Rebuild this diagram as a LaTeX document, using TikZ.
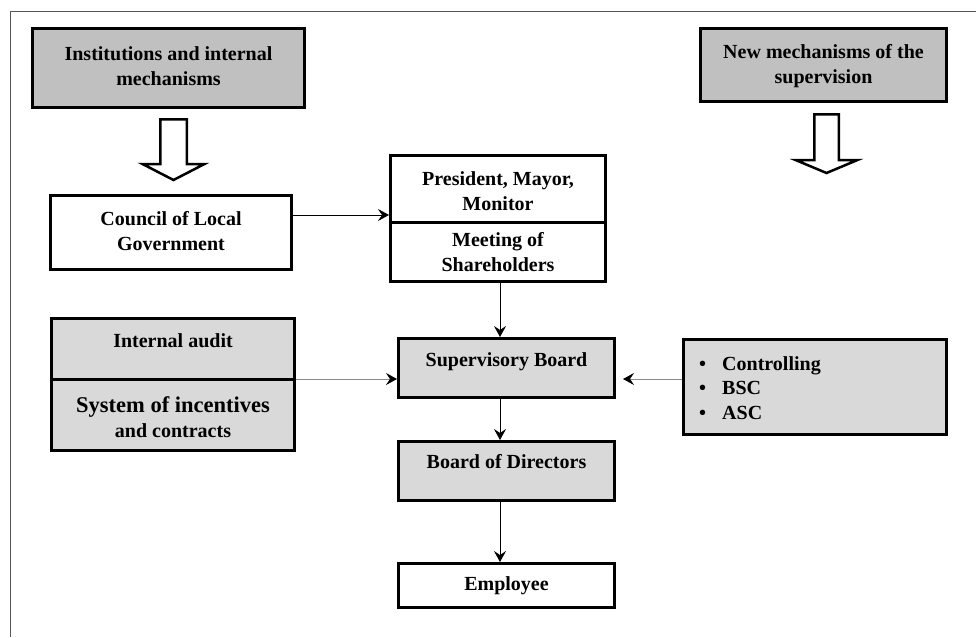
\documentclass[tikz,border=0pt]{standalone}
\usepackage{fontspec}
\setmainfont{Liberation Serif}
\usetikzlibrary{arrows.meta}
\definecolor{darkfill}{HTML}{C0C0C0}
\definecolor{lightfill}{HTML}{D9D9D9}
\definecolor{framegray}{HTML}{555555}
\definecolor{linkgray}{HTML}{8C8C8C}
\begin{document}
\begin{tikzpicture}[x=1pt,y=-1pt,
  box/.style={draw=black, line width=3pt, inner sep=0pt, rectangle},
  darkbox/.style={box, fill=darkfill},
  lightbox/.style={box, fill=lightfill},
  whitebox/.style={box, fill=white},
  txt/.style={font=\fontsize{20}{24.5}\selectfont\bfseries, align=center, inner sep=0pt},
  oneline/.style={txt, text height=14pt, text depth=4.5pt},
  link/.style={line width=0.9pt, -{Stealth[length=11pt,width=12pt,inset=4pt,color=black]}},
  glink/.style={link, draw=linkgray},
  hollow/.style={draw=black, line width=2.5pt, fill=white, line join=miter}]
\useasboundingbox (0,0) rectangle (976,637);
\draw[framegray, line width=1pt] (10,637) -- (10,11) -- (976,11);

% boxes
\node[darkbox, minimum width=272pt, minimum height=79pt] (inst) at (168.5,68) {};
\node[darkbox, minimum width=246pt, minimum height=73pt] (newm) at (823.5,65) {};
\node[whitebox, minimum width=241pt, minimum height=74pt] (council) at (171,232.5) {};
\node[whitebox, minimum width=215pt, minimum height=126pt] (pres) at (498,218.5) {};
\node[lightbox, minimum width=243pt, minimum height=132pt] (internal) at (173,384.5) {};
\node[lightbox, minimum width=216pt, minimum height=59pt] (sup) at (506.5,368) {};
\node[lightbox, minimum width=216pt, minimum height=59pt] (board) at (506.5,471) {};
\node[whitebox, minimum width=216pt, minimum height=44pt] (emp) at (506.5,585.5) {};
\node[lightbox, minimum width=263pt, minimum height=95pt] (bullets) at (815,387) {};

% dividers
\draw[line width=3pt] ([yshift=-3.5pt]pres.west) -- ([yshift=-3.5pt]pres.east);
\draw[line width=3pt] ([yshift=5.5pt]internal.west) -- ([yshift=5.5pt]internal.east);

% texts
\node[txt] (tinst) at (168.5,66) {Institutions and internal\\mechanisms};
\node[txt] (tnew) at (823.5,66) {New mechanisms of the\\supervision};
\node[txt] (tcouncil) at (171,231) {Council of Local\\Government};
\node[txt] (tpres) at (498,191) {President, Mayor,\\Monitor};
\node[txt] (tmeet) at (498,252) {Meeting of\\Shareholders};
\node[oneline] (taudit) at (173,343) {Internal audit};
\node[txt] (tsys) at (173,417) {{\fontsize{22.5}{25}\selectfont System of incentives}\\and contracts};
\node[oneline] (tsup) at (506.5,362) {Supervisory Board};
\node[oneline] (tboard) at (506.5,464) {Board of Directors};
\node[oneline] (temp) at (506.5,586) {Employee};
\node[txt, align=left, anchor=west] (tbul) at (699,388)
  {\makebox[23pt][l]{\textbullet}Controlling\\\makebox[23pt][l]{\textbullet}BSC\\\makebox[23pt][l]{\textbullet}ASC};

% hollow arrows
\draw[hollow] (160.25,119.25) -- (186.75,119.25) -- (186.75,164) -- (204.5,164) -- (173.5,180)
  -- (142.5,164) -- (160.25,164) -- cycle;
\draw[hollow] (814.25,114.25) -- (838.75,114.25) -- (838.75,160) -- (857.5,160) -- (826.5,173)
  -- (795.5,160) -- (814.25,160) -- cycle;

% connectors
\draw[link] ([yshift=17.5pt]council.east) -- ([yshift=17.5pt]council.east -| pres.west);
\draw[link] ([xshift=2pt]pres.south) -- ([xshift=2pt]pres.south |- sup.north);
\draw[glink] ([yshift=5.5pt]internal.east) -- ([yshift=5.5pt]internal.east -| sup.west);
\draw[glink, shorten >=7pt] ([yshift=8pt]bullets.west) -- ([yshift=8pt]bullets.west -| sup.east);
\draw[link] ([xshift=-6.5pt]sup.south) -- ([xshift=-6.5pt]sup.south |- board.north);
\draw[link] ([xshift=-6.5pt]board.south) -- ([xshift=-6.5pt]board.south |- emp.north);
\end{tikzpicture}
\end{document}
